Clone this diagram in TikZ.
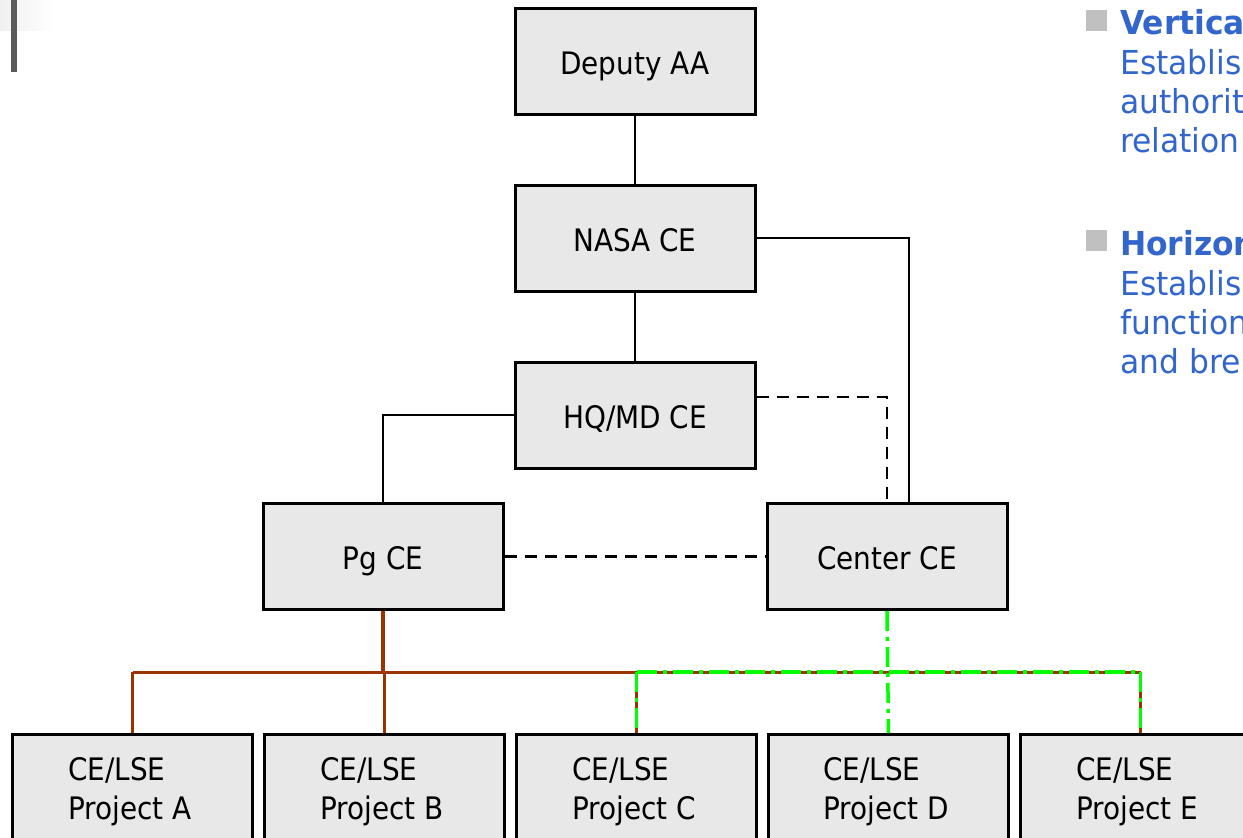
\documentclass[tikz,border=0pt]{standalone}
\usepackage{fontspec}
\setmainfont{DejaVu Sans}[FakeStretch=0.9]
\newfontfamily\sidefont{DejaVu Sans}[FakeStretch=0.95]
\definecolor{boxfill}{HTML}{E8E8E8}
\definecolor{brownline}{HTML}{993300}
\definecolor{greenline}{HTML}{00FF00}
\definecolor{bluetext}{HTML}{3366CC}
\definecolor{bulletgray}{HTML}{C0C0C0}
\definecolor{bargray}{HTML}{5A5A5A}
\tikzset{
  orgbox/.style={draw=black, fill=boxfill, line width=3pt, rectangle,
    minimum width=240pt, minimum height=106pt, inner sep=0pt,
    text height=26pt, text depth=0pt,
    font=\fontsize{31}{39}\selectfont},
  projbox/.style={draw=black, fill=boxfill, line width=3pt, rectangle,
    minimum width=240pt, minimum height=130pt, inner sep=0pt, anchor=north west},
  projtext/.style={anchor=base west, inner sep=0pt, align=left,
    font=\fontsize{31}{39}\selectfont},
  solidconn/.style={draw=black, line width=2.8pt},
  dashconn/.style={draw=black, line width=2.8pt, dash pattern=on 12pt off 8pt},
  brownconn/.style={draw=brownline, line width=3pt},
  greenconn/.style={draw=greenline, line width=3.5pt, dash pattern=on 20pt off 6pt on 4pt off 6pt},
  sidetext/.style={anchor=base west, inner sep=0pt, text=bluetext,
    font=\sidefont\fontsize{33}{40}\selectfont},
  bulletsq/.style={fill=bulletgray, draw=none, minimum size=21pt, inner sep=0pt, anchor=north west}
}
\begin{document}
\begin{tikzpicture}[x=1pt,y=-1pt]
\useasboundingbox (0,0) rectangle (1243,838);
\clip (0,0) rectangle (1243,838);
\fill[white] (0,0) rectangle (1243,838);
% top-left decoration
\shade[left color=gray!12, right color=white] (0,0) rectangle (55,30);
\fill[bargray] (11,0) rectangle (17,72);

% boxes
\node[orgbox] (dep) at (635,61) {Deputy AA};
\node[orgbox] (nasa) at (635,238) {NASA CE};
\node[orgbox] (hq) at (635,415) {HQ/MD CE};
\node[orgbox] (pg) at (383,556.5) {Pg CE};
\node[orgbox] (cen) at (887,556.5) {Center CE};

\node[projbox] (pa) at (11,733) {};
\node[projbox] (pb) at (263,733) {};
\node[projbox] (pc) at (515,733) {};
\node[projbox] (pd) at (767,733) {};
\node[projbox] (pe) at (1019,733) {};
\node[projtext] (pat) at (68,819) {CE/LSE\\Project A};
\node[projtext] (pbt) at (320,819) {CE/LSE\\Project B};
\node[projtext] (pct) at (572,819) {CE/LSE\\Project C};
\node[projtext] (pdt) at (823,819) {CE/LSE\\Project D};
\node[projtext] (pet) at (1076,819) {CE/LSE\\Project E};

% upper connectors
\draw[solidconn] (dep) -- (nasa);
\draw[solidconn] (nasa) -- (hq);
\draw[solidconn] (nasa.east) -| ([xshift=22pt]cen.north);
\draw[dashconn] ([yshift=18pt]hq.east) -| (cen.north);
\draw[solidconn] (hq.west) -| (pg.north);
\draw[dashconn] (pg.east) -- (cen.west);

% bus
\coordinate (busy) at (0,672);
\draw[brownconn, line width=4pt] (pg.south) -- (pg.south |- busy);
\draw[brownconn] (pa.north |- busy) -- (pe.north |- busy);
\draw[brownconn] (pa.north |- busy) -- (pa.north);
\draw[brownconn] (pb.north |- busy) -- (pb.north);
\draw[brownconn] (pc.north |- busy) -- (pc.north);
\draw[brownconn] (pe.north |- busy) -- (pe.north);

\draw[greenconn] (cen.south) -- (pd.north);
\draw[greenconn] (pc.north |- busy) -- (pe.north |- busy);
\draw[greenconn] (pc.north |- busy) -- (pc.north);
\draw[greenconn] (pe.north |- busy) -- (pe.north);

% side text
\node[bulletsq] (b1) at (1086,10) {};
\node[bulletsq] (b2) at (1086,230) {};
\node[sidetext, font=\sidefont\fontsize{33}{40}\selectfont\bfseries] (t1) at (1120,34) {Vertical};
\node[sidetext] (t2) at (1120,74) {Establis};
\node[sidetext] (t3) at (1120,113) {authorit};
\node[sidetext] (t4) at (1120,152) {relation};
\node[sidetext, font=\sidefont\fontsize{33}{40}\selectfont\bfseries] (t5) at (1120,255) {Horizon};
\node[sidetext] (t6) at (1120,295) {Establis};
\node[sidetext] (t7) at (1120,334) {function};
\node[sidetext] (t8) at (1120,373) {and bre};
\end{tikzpicture}
\end{document}
